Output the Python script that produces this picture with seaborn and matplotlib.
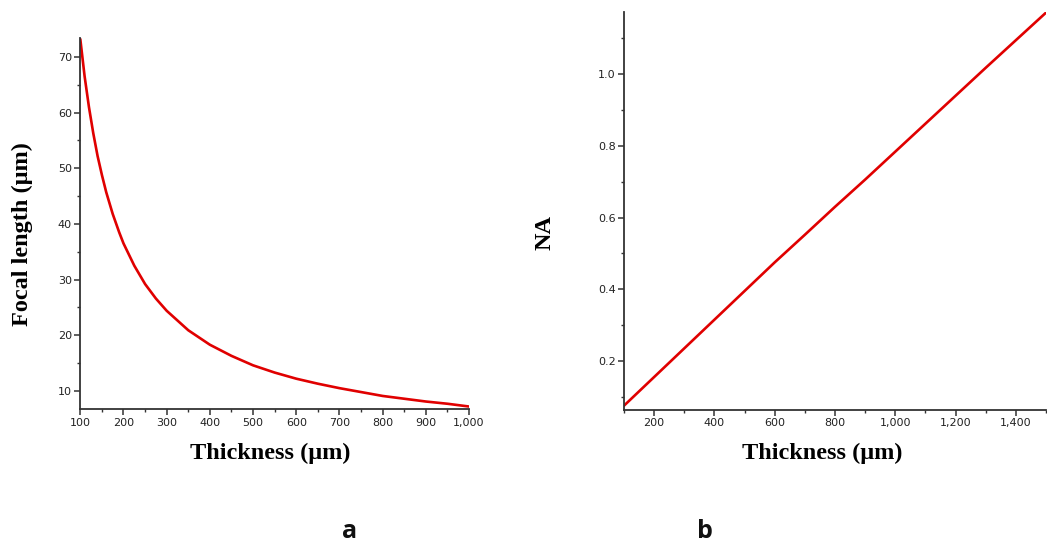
import matplotlib
matplotlib.use("Agg")
import matplotlib.pyplot as plt
import matplotlib.ticker as mticker
import seaborn as sns
import pandas as pd

# ---- data ----
thickness_a = [100, 110, 120, 130, 140, 150, 160, 175, 190, 200, 225, 250, 275, 300,
               350, 400, 450, 500, 550, 600, 650, 700, 750, 800, 850, 900, 950, 1000]
focal_length = [73.2, 66.5, 61.0, 56.3, 52.2, 48.8, 45.7, 41.8, 38.5, 36.5, 32.5, 29.2,
                26.6, 24.4, 20.9, 18.3, 16.3, 14.6, 13.3, 12.2, 11.3, 10.5, 9.8, 9.1,
                8.6, 8.1, 7.7, 7.2]

thickness_b = [100, 200, 300, 400, 500, 600, 700, 800, 900, 1000, 1100, 1200, 1300, 1400, 1500]
na_values = [0.075, 0.155, 0.235, 0.315, 0.395, 0.475, 0.552, 0.630, 0.706, 0.784,
             0.862, 0.940, 1.018, 1.095, 1.172]

x_label = "Thickness (\u03bcm)"
y_label_a = "Focal length (\u03bcm)"
y_label_b = "NA"
panel_a = "a"
panel_b = "b"

df_a = pd.DataFrame({"t": thickness_a, "f": focal_length})
df_b = pd.DataFrame({"t": thickness_b, "na": na_values})

sns.set_style("ticks")
plt.rcParams["font.family"] = ["DejaVu Sans"]

fig = plt.figure(figsize=(10.47, 5.43), dpi=100)
ax1 = fig.add_axes([0.0767, 0.2462, 0.3713, 0.6838])
ax2 = fig.add_axes([0.596, 0.245, 0.403, 0.733])

line_color = "#e00000"
dark = "#333333"
label_font = dict(family="Liberation Serif", weight="bold", size=17.5, color="black")

sns.lineplot(data=df_a, x="t", y="f", ax=ax1, color=line_color, linewidth=1.9)
sns.lineplot(data=df_b, x="t", y="na", ax=ax2, color=line_color, linewidth=1.9)

ax1.set_xlim(100, 1000)
ax1.set_ylim(6.7, 73.4)
ax1.xaxis.set_major_locator(mticker.MultipleLocator(100))
ax1.xaxis.set_minor_locator(mticker.MultipleLocator(50))
ax1.yaxis.set_major_locator(mticker.MultipleLocator(10))
ax1.yaxis.set_minor_locator(mticker.MultipleLocator(5))
ax1.xaxis.set_major_formatter(mticker.FuncFormatter(lambda v, p: f"{v:,.0f}"))
ax1.yaxis.set_major_formatter(mticker.FuncFormatter(lambda v, p: f"{v:.0f}"))

ax2.set_xlim(100, 1500)
ax2.set_ylim(0.063, 1.174)
ax2.xaxis.set_major_locator(mticker.MultipleLocator(200))
ax2.xaxis.set_minor_locator(mticker.MultipleLocator(100))
ax2.yaxis.set_major_locator(mticker.MultipleLocator(0.2))
ax2.yaxis.set_minor_locator(mticker.MultipleLocator(0.1))
ax2.xaxis.set_major_formatter(mticker.FuncFormatter(lambda v, p: f"{v:,.0f}"))
ax2.yaxis.set_major_formatter(mticker.FuncFormatter(lambda v, p: f"{v:.1f}"))

for ax in (ax1, ax2):
    sns.despine(ax=ax)
    for s in ("left", "bottom"):
        ax.spines[s].set_color(dark)
        ax.spines[s].set_linewidth(1.3)
    ax.tick_params(which="major", direction="out", length=4, width=1.1, color=dark,
                   labelsize=8, labelcolor="#222222", pad=2)
    ax.tick_params(which="minor", direction="out", length=2.5, width=1.0, color=dark)
    ax.set_facecolor("none")

ax1.set_xlabel(x_label, **label_font)
ax1.set_ylabel(y_label_a, **label_font)
ax1.xaxis.set_label_coords(0.488, -0.120)
ax1.xaxis.label.set_va("center")
ax1.yaxis.set_label_coords(-0.150, 0.473)
ax1.yaxis.label.set_va("center")

ax2.set_xlabel(x_label, **label_font)
ax2.set_ylabel(y_label_b, **label_font)
ax2.xaxis.set_label_coords(0.469, -0.110)
ax2.xaxis.label.set_va("center")
ax2.yaxis.set_label_coords(-0.187, 0.447)
ax2.yaxis.label.set_va("center")

fig.text(350 / 1047, 1 - 538 / 543, panel_a, family="Open Sans", weight="bold",
         size=18, ha="center", va="baseline", color="#111111")
fig.text(705 / 1047, 1 - 538 / 543, panel_b, family="Open Sans", weight="bold",
         size=18, ha="center", va="baseline", color="#111111")

fig.savefig("out.png", dpi=100, facecolor="white")
